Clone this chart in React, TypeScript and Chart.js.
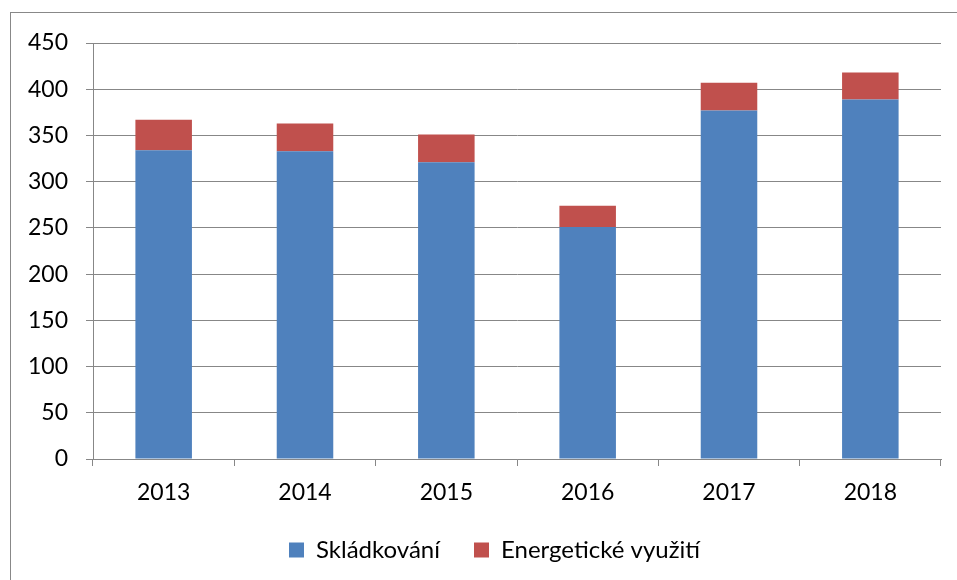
import React, { useEffect, useRef } from "react";
import { Chart, registerables } from "chart.js";

Chart.register(...registerables);

const categories = ["2013", "2014", "2015", "2016", "2017", "2018"];
const landfill = [334, 333, 321, 251, 377, 389];
const energyRecovery = [33, 30, 30, 23, 30, 29];
const seriesNames = ["Skládkování", "Energetické využití"];

const FAMILY = "Lato, 'Noto Sans', sans-serif";
const AXIS_FONT = { family: FAMILY, size: 23 };
const LEGEND_FONT = { family: FAMILY, size: 24 };
const GRID = "#878787";
const LEGEND_H = 76;
const LEGEND_SHIFT = 24;

const legendFix = {
  id: "legendFix",
  beforeUpdate(chart: any) {
    const lg = chart.legend;
    if (lg && !lg.__patched) {
      lg.__patched = true;
      const orig = lg.fit;
      lg.fit = function () {
        orig.call(this);
        this.height = LEGEND_H;
      };
    }
  },
  afterLayout(chart: any) {
    const lg = chart.legend;
    if (lg) {
      lg.left += LEGEND_SHIFT;
      lg.right += LEGEND_SHIFT;
    }
  },
};

export default function App() {
  const ref = useRef<HTMLCanvasElement>(null);
  useEffect(() => {
    if (!ref.current) return;
    const chart = new Chart(ref.current, {
      type: "bar",
      data: {
        labels: categories,
        datasets: [
          {
            label: seriesNames[0],
            data: landfill,
            backgroundColor: "#4F81BD",
            barPercentage: 0.4,
            categoryPercentage: 1,
          },
          {
            label: seriesNames[1],
            data: energyRecovery,
            backgroundColor: "#C0504D",
            barPercentage: 0.4,
            categoryPercentage: 1,
          },
        ],
      },
      options: {
        responsive: false,
        animation: false,
        layout: { padding: { top: 43, right: 16, left: 0, bottom: 0 } },
        plugins: {
          legend: {
            position: "bottom",
            labels: {
              font: LEGEND_FONT,
              color: "#000",
              boxWidth: 15,
              boxHeight: 15,
              padding: 34,
            },
          },
          tooltip: { enabled: false },
        },
        scales: {
          x: {
            stacked: true,
            grid: { drawOnChartArea: false, color: GRID, tickLength: 7, offset: true },
            border: { color: GRID },
            ticks: { font: AXIS_FONT, color: "#000", padding: 13 },
            afterFit: (s: any) => {
              s.height = 45;
            },
          },
          y: {
            stacked: true,
            min: 0,
            max: 450,
            ticks: { stepSize: 50, font: AXIS_FONT, color: "#000", padding: 18 },
            grid: { color: GRID, tickLength: 7 },
            border: { color: GRID },
            afterFit: (s: any) => {
              s.width = 93;
            },
          },
        },
      },
      plugins: [legendFix],
    });
    return () => chart.destroy();
  }, []);
  return (
    <div style={{ position: "fixed", left: 0, top: 0, width: 957, height: 580, background: "#fff", overflow: "hidden" }}>
      <div
        style={{
          position: "absolute",
          left: 10,
          top: 12,
          width: 980,
          height: 600,
          border: "1px solid #888",
        }}
      />
      <canvas ref={ref} width={957} height={580} style={{ position: "absolute", left: 0, top: 0 }} />
    </div>
  );
}
